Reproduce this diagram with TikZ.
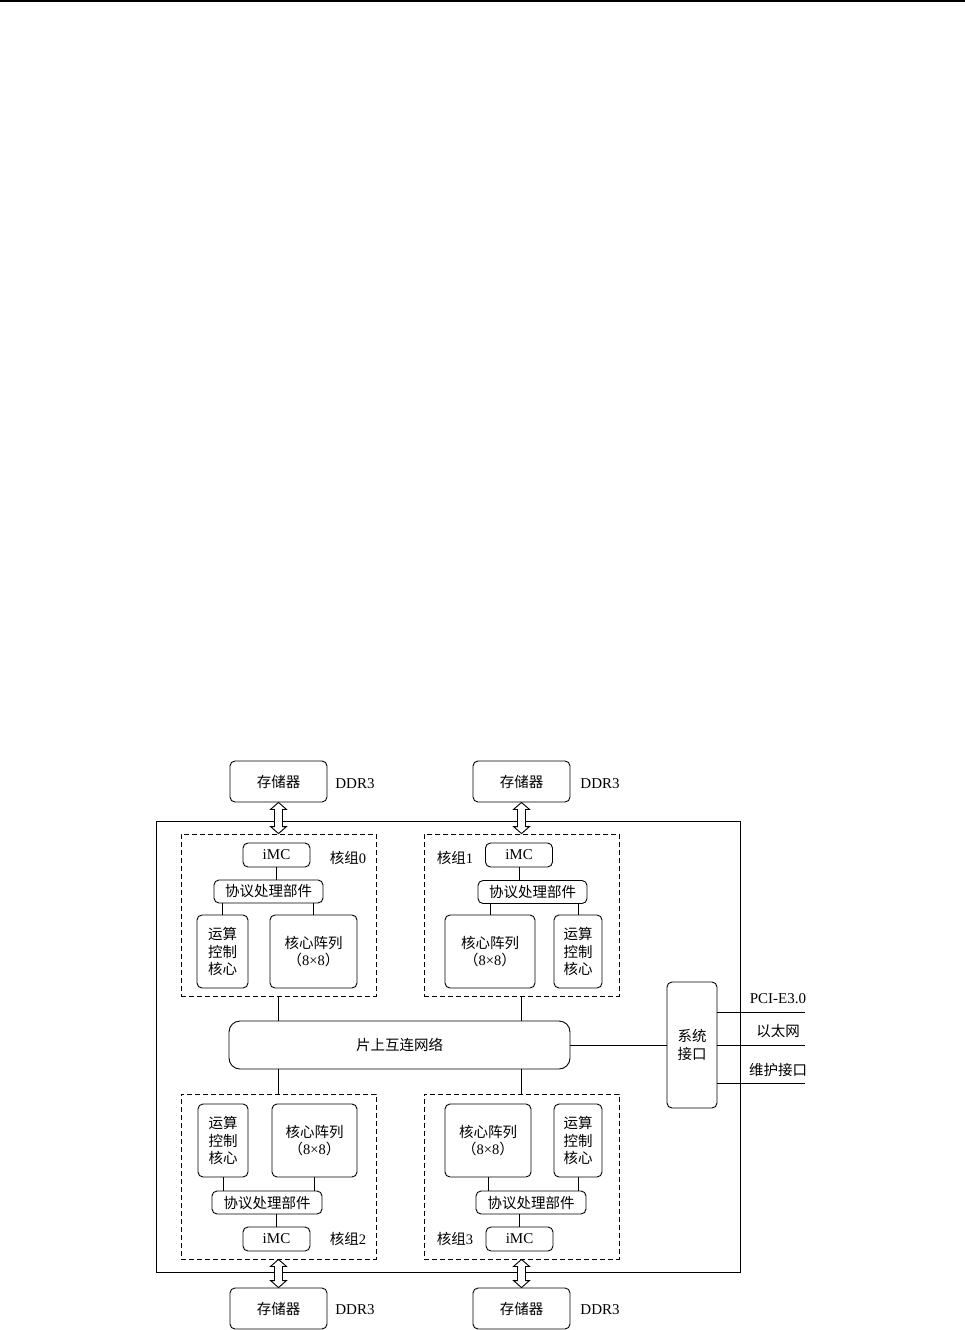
\documentclass[tikz,border=0pt]{standalone}
\usepackage{fontspec}
\setmainfont{Liberation Serif}
\newfontfamily\cjk{Noto Sans CJK SC}
\usetikzlibrary{calc}
\tikzset{
  every path/.style={line width=0.9pt},
  cj/.style={font=\cjk\fontsize{14.5}{17.5}\selectfont},
  lt/.style={font=\rmfamily\fontsize{15}{17.5}\selectfont},
  box/.style={draw, rounded corners=5pt, inner sep=0pt, align=center, cj},
  grp/.style={draw, dash pattern=on 5pt off 3pt, inner sep=0pt},
  lbl/.style={inner sep=0pt, align=center, cj},
}
\newcommand{\dblarrow}[2]{%
  \draw[fill=white] let \p1=(#1.south), \p2=(#2.north) in
    (\x1,\y1) -- (\x1-8pt,\y1-7pt) -- (\x1-4pt,\y1-7pt) -- (\x1-4pt,\y2+7pt)
    -- (\x1-8pt,\y2+7pt) -- (\x1,\y2) -- (\x1+8pt,\y2+7pt) -- (\x1+4pt,\y2+7pt)
    -- (\x1+4pt,\y1-7pt) -- (\x1+8pt,\y1-7pt) -- cycle;}
\begin{document}
\begin{tikzpicture}[x=1pt,y=-1pt]
\useasboundingbox (0,0) rectangle (965,1330);
\coordinate (tl) at (0,1);
\coordinate (tr) at (965,1);
\draw[line width=1.5pt] (tl) -- (tr);

% main chip
\node[draw, inner sep=0pt, minimum width=584, minimum height=451] (chip) at (448,1046.5) {};

% memories
\node[box, minimum width=97, minimum height=41] (mem0) at (278.5,781.5) {存储器};
\node[box, minimum width=97, minimum height=41] (mem1) at (521.5,781.5) {存储器};
\node[box, minimum width=97, minimum height=41] (mem2) at (278.5,1308.5) {存储器};
\node[box, minimum width=97, minimum height=41] (mem3) at (521.5,1308.5) {存储器};
\node[lbl, lt] (d0) at (355,784) {DDR3};
\node[lbl, lt] (d1) at (600,784) {DDR3};
\node[lbl, lt] (d2) at (355,1310) {DDR3};
\node[lbl, lt] (d3) at (600,1310) {DDR3};

% groups
\node[grp, minimum width=195, minimum height=162] (g0) at (278.5,915) {};
\node[grp, minimum width=195, minimum height=162] (g1) at (521.5,915) {};
\node[grp, minimum width=195, minimum height=165] (g2) at (278.5,1176.5) {};
\node[grp, minimum width=195, minimum height=165] (g3) at (521.5,1176.5) {};

\node[lbl] (l0) at (348,858) {核组\rmfamily 0};
\node[lbl] (l1) at (455,858) {核组\rmfamily 1};
\node[lbl] (l2) at (348,1239) {核组\rmfamily 2};
\node[lbl] (l3) at (455,1239) {核组\rmfamily 3};

% iMC
\node[box, lt, minimum width=67, minimum height=24] (imc0) at (276.5,855) {iMC};
\node[box, lt, minimum width=67, minimum height=24] (imc1) at (519,855) {iMC};
\node[box, lt, minimum width=67, minimum height=24] (imc2) at (276.5,1239) {iMC};
\node[box, lt, minimum width=67, minimum height=24] (imc3) at (519.5,1239) {iMC};

% protocol
\node[box, minimum width=109, minimum height=23] (pro0) at (268.5,891.5) {协议处理部件};
\node[box, minimum width=109, minimum height=23] (pro1) at (532.5,892) {协议处理部件};
\node[box, minimum width=110, minimum height=23] (pro2) at (267,1202.5) {协议处理部件};
\node[box, minimum width=110, minimum height=23] (pro3) at (531,1202.5) {协议处理部件};

% control cores
\node[box, minimum width=51, minimum height=73] (yk0) at (222.5,951.5) {运算\\控制\\核心};
\node[box, minimum width=48, minimum height=73] (yk1) at (578,951.5) {运算\\控制\\核心};
\node[box, minimum width=50, minimum height=73] (yk2) at (223,1140.5) {运算\\控制\\核心};
\node[box, minimum width=48, minimum height=73] (yk3) at (578,1140.5) {运算\\控制\\核心};

% core arrays
\node[box, minimum width=87, minimum height=73] (hx0) at (313.5,951.5) {核心阵列\\（{\rmfamily 8×8}）};
\node[box, minimum width=90, minimum height=73] (hx1) at (490,951.5) {核心阵列\\（{\rmfamily 8×8}）};
\node[box, minimum width=85, minimum height=73] (hx2) at (314.5,1140.5) {核心阵列\\（{\rmfamily 8×8}）};
\node[box, minimum width=86, minimum height=73] (hx3) at (488,1140.5) {核心阵列\\（{\rmfamily 8×8}）};

% network and system interface
\node[box, rounded corners=11pt, minimum width=341, minimum height=48] (net) at (399.5,1045) {片上互连网络};
\node[box, minimum width=50, minimum height=126] (sys) at (692,1045) {系统\\接口};

% inner connectors
\foreach \i in {0,1} {
  \draw (imc\i.south) -- (imc\i.south |- pro\i.north);
  \draw (yk\i.north) -- (yk\i.north |- pro\i.south);
  \draw (hx\i.north) -- (hx\i.north |- pro\i.south);
  \draw (g\i.south) -- (g\i.south |- net.north);
}
\foreach \i in {2,3} {
  \draw (imc\i.north) -- (imc\i.north |- pro\i.south);
  \draw (yk\i.south) -- (yk\i.south |- pro\i.north);
  \draw (hx\i.south) -- (hx\i.south |- pro\i.north);
  \draw (g\i.north) -- (g\i.north |- net.south);
}
\draw (net.east) -- (sys.west);

% external interfaces
\coordinate (e1) at (805,1012);
\coordinate (e2) at (805,1045);
\coordinate (e3) at (805,1083);
\draw (sys.east |- e1) -- (e1);
\draw (sys.east |- e2) -- (e2);
\draw (sys.east |- e3) -- (e3);
\node[lbl, lt] (t1) at (778,999) {PCI-E3.0};
\node[lbl] (t2) at (778,1031) {以太网};
\node[lbl] (t3) at (778,1070) {维护接口};

% memory arrows
\dblarrow{mem0}{g0}
\dblarrow{mem1}{g1}
\dblarrow{g2}{mem2}
\dblarrow{g3}{mem3}
\end{tikzpicture}
\end{document}
